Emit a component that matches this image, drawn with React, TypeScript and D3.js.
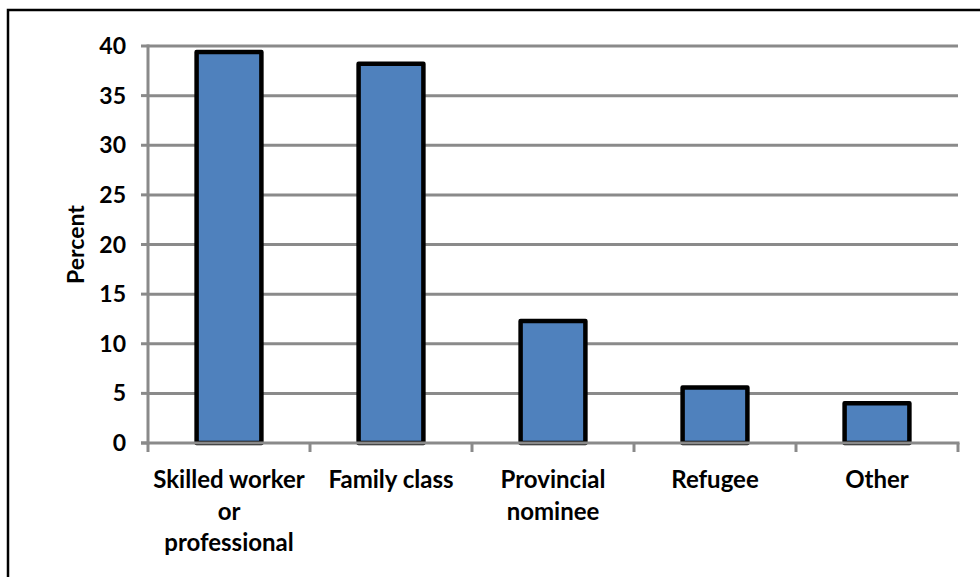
import React, { useEffect, useRef } from "react";
import * as d3 from "d3";

// categories, wrapped the way the picture shows them
const categories = ["Skilled worker or professional", "Family class", "Provincial nominee", "Refugee", "Other"];
const categoryLines = [["Skilled worker", "or", "professional"], ["Family class"], ["Provincial", "nominee"], ["Refugee"], ["Other"]];
const percents = [39.4, 38.2, 12.3, 5.6, 4.0];
const yTicks = [0, 5, 10, 15, 20, 25, 30, 35, 40];

const W = 980;
const H = 577;
const margin = { top: 46, right: 22, bottom: 134, left: 148 };
const font = "Lato, 'Open Sans', sans-serif";

const App = () => {
    const ref = useRef<SVGSVGElement>(null);

    useEffect(() => {
        const svg = d3.select(ref.current);
        svg.selectAll("*").remove();

        const x = d3.scaleBand<string>()
            .domain(categories)
            .range([margin.left, W - margin.right])
            .paddingInner(0.6)
            .paddingOuter(0.3);
        const step = x.step();

        const y = d3.scaleLinear()
            .domain([0, 40])
            .range([H - margin.bottom, margin.top]);

        // outer chart border (runs off the right/bottom edge like the picture)
        svg.append("rect")
            .attr("x", 8).attr("y", 10)
            .attr("width", 1000).attr("height", 600)
            .attr("fill", "#fff")
            .attr("stroke", "#000")
            .attr("stroke-width", 2.5);

        // gridlines
        svg.append("g")
            .selectAll("line")
            .data(yTicks.filter((d) => d > 0))
            .join("line")
            .attr("x1", margin.left)
            .attr("x2", W - margin.right)
            .attr("y1", (d) => y(d))
            .attr("y2", (d) => y(d))
            .attr("stroke", "#8a8a8a")
            .attr("stroke-width", 3);

        // y axis
        const yAxis = svg.append("g").attr("transform", `translate(${margin.left},0)`);
        yAxis.append("line")
            .attr("y1", y(40) - 1.5).attr("y2", y(0) + 1.5)
            .attr("stroke", "#8a8a8a").attr("stroke-width", 3);
        yAxis.selectAll(".tick")
            .data(yTicks)
            .join("line")
            .attr("x1", -7).attr("x2", 0)
            .attr("y1", (d) => y(d)).attr("y2", (d) => y(d))
            .attr("stroke", "#8a8a8a").attr("stroke-width", 3);
        yAxis.selectAll("text")
            .data(yTicks)
            .join("text")
            .attr("x", -22)
            .attr("y", (d) => y(d))
            .attr("dy", "0.35em")
            .attr("text-anchor", "end")
            .style("font-family", font)
            .style("font-weight", "bold")
            .style("font-size", "23px")
            .text((d) => d);

        // bars
        svg.append("g")
            .selectAll("rect")
            .data(percents)
            .join("rect")
            .attr("x", (d, i) => x(categories[i])!)
            .attr("y", (d) => y(d))
            .attr("width", x.bandwidth())
            .attr("height", (d) => y(0) - y(d))
            .attr("fill", "#4F81BD")
            .attr("stroke", "#000")
            .attr("stroke-width", 4.5)
            .attr("stroke-linejoin", "round");

        // x axis
        const xAxis = svg.append("g").attr("transform", `translate(0,${y(0)})`);
        xAxis.append("line")
            .attr("x1", margin.left - 7).attr("x2", W - margin.right + 1.5)
            .attr("stroke", "#8a8a8a").attr("stroke-width", 3);
        const edges = d3.range(categories.length + 1).map((i) => margin.left + i * step);
        xAxis.selectAll(".tk")
            .data(edges)
            .join("line")
            .attr("x1", (d) => d).attr("x2", (d) => d)
            .attr("y1", 0).attr("y2", 9)
            .attr("stroke", "#8a8a8a").attr("stroke-width", 3);

        const labels = xAxis.selectAll("text")
            .data(categoryLines)
            .join("text")
            .attr("text-anchor", "middle")
            .style("font-family", font)
            .style("font-weight", "bold")
            .style("font-size", "24px");
        labels.each(function (lines, i) {
            const cx = x(categories[i])! + x.bandwidth() / 2;
            d3.select(this).selectAll("tspan")
                .data(lines)
                .join("tspan")
                .attr("x", cx)
                .attr("y", (d, j) => 45 + j * 31.5)
                .text((d) => d);
        });

        // y axis title
        svg.append("text")
            .attr("transform", `translate(84,${(y(0) + y(40)) / 2}) rotate(-90)`)
            .attr("text-anchor", "middle")
            .style("font-family", font)
            .style("font-weight", "bold")
            .style("font-size", "23px")
            .text("Percent");
    }, []);

    return (
        <svg ref={ref} width={W} height={H} style={{ position: "absolute", left: 0, top: 0, display: "block" }} />
    );
};

export default App;
